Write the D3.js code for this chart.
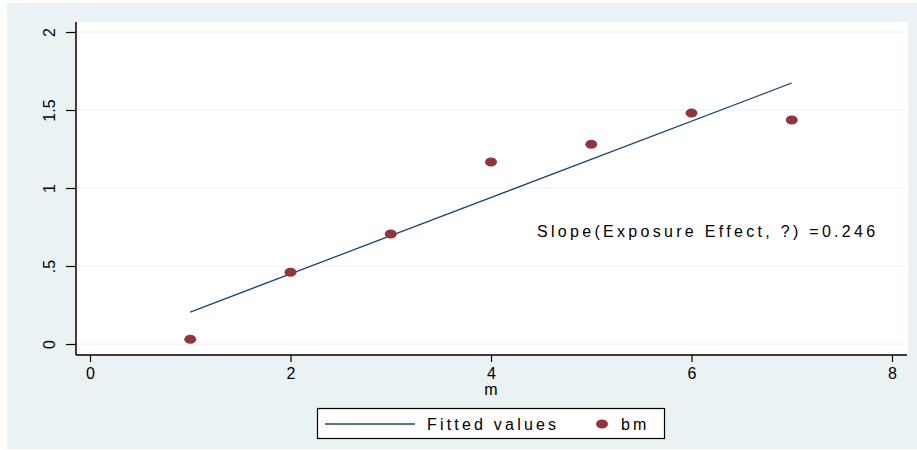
<!DOCTYPE html>
<html>
<head>
<meta charset="utf-8">
<script src="https://cdn.jsdelivr.net/npm/d3@7"></script>
<style>
  body { margin: 0; background: #fff; }
  text { font-family: "Liberation Sans", Arial, sans-serif; fill: #000; }
</style>
</head>
<body>
<svg width="917" height="450"></svg>
<script>
// data
const mValues = [1, 2, 3, 4, 5, 6, 7]
const bmValues = [0.03, 0.46, 0.705, 1.167, 1.28, 1.48, 1.436]
const fitX = [1, 7]
const fitY = [0.205, 1.673]
const xTicks = [0, 2, 4, 6, 8]
const yTicks = [0, 0.5, 1, 1.5, 2]
const yTickLabels = ['0', '.5', '1', '1.5', '2']
const slopeNote = 'Slope(Exposure Effect, ?) =0.246'
const legendLabels = ['Fitted values', 'bm']

const svg = d3.select('svg')
const bg = '#eaf2f3'
const navy = '#1a476f'
const red = '#90353b'
const font = '"Liberation Sans", Arial, sans-serif'

svg.append('rect').attr('x', 7).attr('y', 3).attr('width', 910).attr('height', 446).attr('fill', bg)

const x = d3.scaleLinear().domain([0, 8]).range([90, 892])
const y = d3.scaleLinear().domain([0, 2]).range([344, 32])

// plot region
svg.append('rect').attr('x', 76).attr('y', 22).attr('width', 832).attr('height', 333).attr('fill', '#fff')

// grid
svg.append('g').selectAll('line').data(yTicks).enter().append('line')
    .attr('x1', 77).attr('x2', 907)
    .attr('y1', d => y(d)).attr('y2', d => y(d))
    .attr('stroke', bg).attr('stroke-width', 1)

// y axis
const yAxis = d3.axisLeft(y).tickValues(yTicks).tickSize(10).tickFormat((d, i) => yTickLabels[i])
const gy = svg.append('g').attr('transform', 'translate(76,0)').call(yAxis)
gy.select('.domain').attr('d', 'M0,22V355').attr('stroke', '#000').attr('stroke-width', 1.5)
gy.selectAll('.tick line').attr('stroke', '#000').attr('stroke-width', 1.2)
gy.selectAll('.tick text')
    .attr('x', 0).attr('dy', 0)
    .attr('transform', 'translate(-21,0) rotate(-90)')
    .attr('text-anchor', 'middle')
    .style('font-size', '16px')
    .style('font-family', font)

// x axis
const xAxis = d3.axisBottom(x).tickValues(xTicks).tickSize(7).tickFormat(d3.format('d'))
const gx = svg.append('g').attr('transform', 'translate(0,355)').call(xAxis)
gx.select('.domain').attr('d', 'M76,0H907').attr('stroke', '#000').attr('stroke-width', 1.5)
gx.selectAll('.tick line').attr('stroke', '#000').attr('stroke-width', 1.2)
gx.selectAll('.tick text')
    .attr('y', 13).attr('dy', '0.71em')
    .style('font-size', '16px')
    .style('font-family', font)

svg.append('text').attr('x', x(4)).attr('y', 395).attr('text-anchor', 'middle')
    .style('font-size', '16px').text('m')

// fitted line
const fitData = fitX.map((d, i) => [d, fitY[i]])
svg.append('path').datum(fitData)
    .attr('d', d3.line().x(d => x(d[0])).y(d => y(d[1])))
    .attr('fill', 'none').attr('stroke', navy).attr('stroke-width', 1.3)

// scatter
svg.append('g').selectAll('ellipse').data(mValues).enter().append('ellipse')
    .attr('cx', d => x(d))
    .attr('cy', (d, i) => y(bmValues[i]))
    .attr('rx', 6).attr('ry', 4.5)
    .attr('fill', red)

// note
svg.append('text').attr('x', 537).attr('y', 237)
    .style('font-size', '16px').style('letter-spacing', '3.3px')
    .text(slopeNote)

// legend
const lg = svg.append('g')
lg.append('rect').attr('x', 317.5).attr('y', 408.5).attr('width', 347).attr('height', 30)
    .attr('fill', '#fff').attr('stroke', '#000').attr('stroke-width', 1.2)
lg.append('line').attr('x1', 325).attr('x2', 415).attr('y1', 424).attr('y2', 424)
    .attr('stroke', navy).attr('stroke-width', 1.3)
lg.append('text').attr('x', 427).attr('y', 430).style('font-size', '16px')
    .style('letter-spacing', '3.2px').text(legendLabels[0])
lg.append('ellipse').attr('cx', 602).attr('cy', 424).attr('rx', 6).attr('ry', 4.5).attr('fill', red)
lg.append('text').attr('x', 621).attr('y', 430).style('font-size', '16px')
    .style('letter-spacing', '3.2px').text(legendLabels[1])
</script>
</body>
</html>
